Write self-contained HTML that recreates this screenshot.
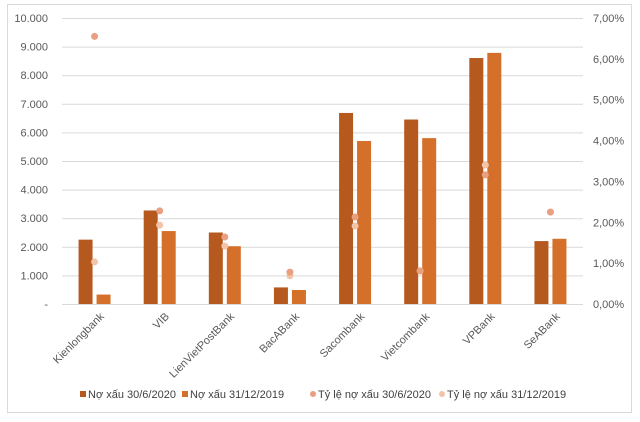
<!DOCTYPE html>
<html><head><meta charset="utf-8"><style>
html,body{margin:0;padding:0;background:#fff;}
svg{display:block;font-family:"Liberation Sans","Noto Sans CJK SC",sans-serif;}
</style></head><body>
<svg id="chart" width="640" height="422" viewBox="0 0 640 422">
<rect x="7.5" y="4.5" width="624" height="408" fill="#fff" stroke="#d9d9d9"/>
<g id="grid"></g>
<g id="bars"></g>
<g id="dots"></g>
<g id="axes" font-size="11" fill="#595959"></g>
<g id="legend" font-size="11" fill="#404040"></g>
</svg>
<script>
const categories = ["Kienlongbank","VIB","LienVietPostBank","BacABank","Sacombank","Vietcombank","VPBank","SeABank"];
const npl2020 = [2250,3270,2500,580,6680,6450,8600,2200];
const npl2019 = [330,2550,2020,490,5700,5800,8780,2280];
const ratio2020 = [6.55,2.28,1.64,0.78,2.13,0.81,3.16,2.25];
const ratio2019 = [1.03,1.93,1.42,0.69,1.91,0.81,3.40,2.25];
const leftTicks = [0,1000,2000,3000,4000,5000,6000,7000,8000,9000,10000];
const leftTickLabels = ["-","1.000","2.000","3.000","4.000","5.000","6.000","7.000","8.000","9.000","10.000"];
const rightTicks = [0,1,2,3,4,5,6,7];
const rightTickLabels = ["0,00%","1,00%","2,00%","3,00%","4,00%","5,00%","6,00%","7,00%"];
const seriesNames = ["Nợ xấu 30/6/2020","Nợ xấu 31/12/2019","Tỷ lệ nợ xấu 30/6/2020","Tỷ lệ nợ xấu 31/12/2019"];

const NS="http://www.w3.org/2000/svg";
const X0=62,X1=583,Y0=304,Y1=18;
const yL=v=>Y0-(v/10000)*(Y0-Y1);
const yR=v=>Y0-(v/7)*(Y0-Y1);
const band=(X1-X0)/categories.length;
const xc=i=>X0+band*(i+0.5);
function mk(tag,attrs,parent){const e=document.createElementNS(NS,tag);for(const k in attrs)e.setAttribute(k,attrs[k]);parent.appendChild(e);return e;}
const grid=document.getElementById('grid'),bars=document.getElementById('bars'),dots=document.getElementById('dots'),axes=document.getElementById('axes'),legend=document.getElementById('legend');
leftTicks.forEach((t,i)=>{
  const l=mk('line',{x1:X0,x2:X1,y1:yL(t)+0.5,y2:yL(t)+0.5,stroke:'#d9d9d9'},grid);
  
  
  const tx=mk('text',{x:48,y:yL(t)+4,'text-anchor':'end'},axes);tx.textContent=leftTickLabels[i];
  
  
});
rightTicks.forEach((t,i)=>{
  const tx=mk('text',{x:593,y:yR(t)+4},axes);tx.textContent=rightTickLabels[i];
  
  
});
const bw=14;
categories.forEach((c,i)=>{
  const x=xc(i);
  const b1=mk('rect',{x:x-bw-2,y:yL(npl2020[i]),width:bw,height:Y0-yL(npl2020[i]),fill:'#B5591F'},bars);
  
  
  const b2=mk('rect',{x:x+2,y:yL(npl2019[i]),width:bw,height:Y0-yL(npl2019[i]),fill:'#D4702A'},bars);
  
  
  const d2=mk('circle',{cx:x,cy:yR(ratio2019[i]),r:3.5,fill:'#F2C4AA'},dots);
  
  
  const d1=mk('circle',{cx:x,cy:yR(ratio2020[i]),r:3.5,fill:'#E8A080'},dots);
  
  
  const tx=mk('text',{x:x+5,y:312,'text-anchor':'end',transform:`rotate(-45 ${x+5} 312)`,'dominant-baseline':'hanging'},axes);
  tx.textContent=c;
  
  
});
const lx=[80,182,310,439],colors=['#B5591F','#D4702A','#E8A080','#F2C4AA'];
seriesNames.forEach((n,i)=>{
  let m;
  if(i<2){m=mk('rect',{x:lx[i],y:391,width:6,height:6,fill:colors[i]},legend);}
  else{m=mk('circle',{cx:lx[i]+3,cy:394,r:3,fill:colors[i]},legend);}
  
  
  const t=mk('text',{x:lx[i]+8,y:398},legend);t.textContent=n;
  
  
});
</script>
</body></html>
